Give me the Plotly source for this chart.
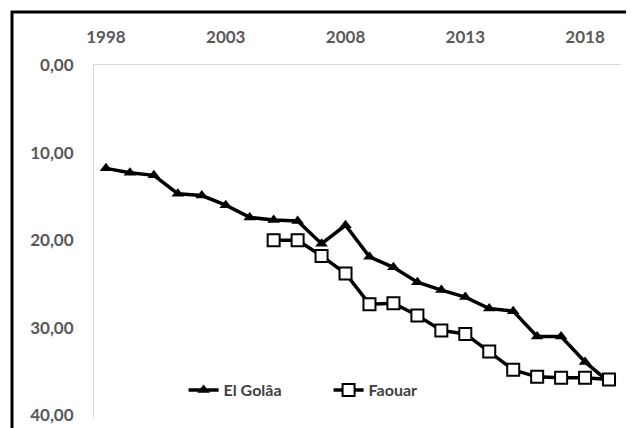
import plotly.graph_objects as go

years = list(range(1998, 2020))
el_golaa = [11.8, 12.3, 12.6, 14.7, 14.9, 16.0, 17.4, 17.7, 17.8, 20.4, 18.3,
            21.9, 23.1, 24.8, 25.7, 26.5, 27.8, 28.1, 31.0, 31.0, 33.9, 36.2]
faouar_years = list(range(2005, 2020))
faouar = [20.0, 20.0, 21.8, 23.8, 27.3, 27.2, 28.6, 30.3, 30.7, 32.7, 34.8,
          35.6, 35.7, 35.7, 35.9]
x_ticks = [1998, 2003, 2008, 2013, 2018]
y_ticks = [0, 10, 20, 30, 40]
y_ticklabels = ["0,00", "10,00", "20,00", "30,00", "40,00"]

GRAY = "#595959"
FONT = "Lato"

fig = go.Figure()
fig.add_trace(go.Scatter(
    x=years, y=el_golaa, name="El Golâa", mode="lines+markers",
    line=dict(color="black", width=3.5),
    marker=dict(symbol="triangle-up", size=11, color="black"),
))
fig.add_trace(go.Scatter(
    x=faouar_years, y=faouar, name="Faouar", mode="lines+markers",
    line=dict(color="black", width=3.5),
    marker=dict(symbol="square", size=12, color="white",
                line=dict(color="black", width=2)),
))

fig.update_layout(
    width=634, height=428,
    margin=dict(l=86, r=21, t=57, b=18, autoexpand=False),
    paper_bgcolor="white", plot_bgcolor="white",
    font=dict(family=FONT, size=17, color=GRAY, weight="bold"),
    showlegend=True,
    legend=dict(orientation="h", x=0.17, y=0.079, xanchor="left", yanchor="middle",
                bgcolor="rgba(0,0,0,0)", font=dict(size=16, color="#404040"),
                entrywidth=100, entrywidthmode="pixels"),
    xaxis=dict(
        side="top", range=[1997.5, 2019.5], tickmode="array", tickvals=x_ticks,
        ticktext=[str(v) for v in x_ticks], automargin=False,
        showgrid=False, zeroline=False, showline=True, linecolor="#d9d9d9", linewidth=1,
        ticks="outside", ticklen=14, tickcolor="rgba(0,0,0,0)",
    ),
    yaxis=dict(
        range=[40.3, 0], tickmode="array", tickvals=y_ticks, ticktext=y_ticklabels,
        automargin=False,
        showgrid=False, zeroline=False, showline=True, linecolor="#d9d9d9", linewidth=1,
        ticks="outside", ticklen=16, tickcolor="rgba(0,0,0,0)",
    ),
    shapes=[dict(type="rect", xref="paper", yref="paper",
                 x0=-0.1556, x1=1.0323, y0=-0.06, y1=1.150,
                 line=dict(color="black", width=3), fillcolor="rgba(0,0,0,0)",
                 layer="above")],
)

fig.write_html("out.html")
